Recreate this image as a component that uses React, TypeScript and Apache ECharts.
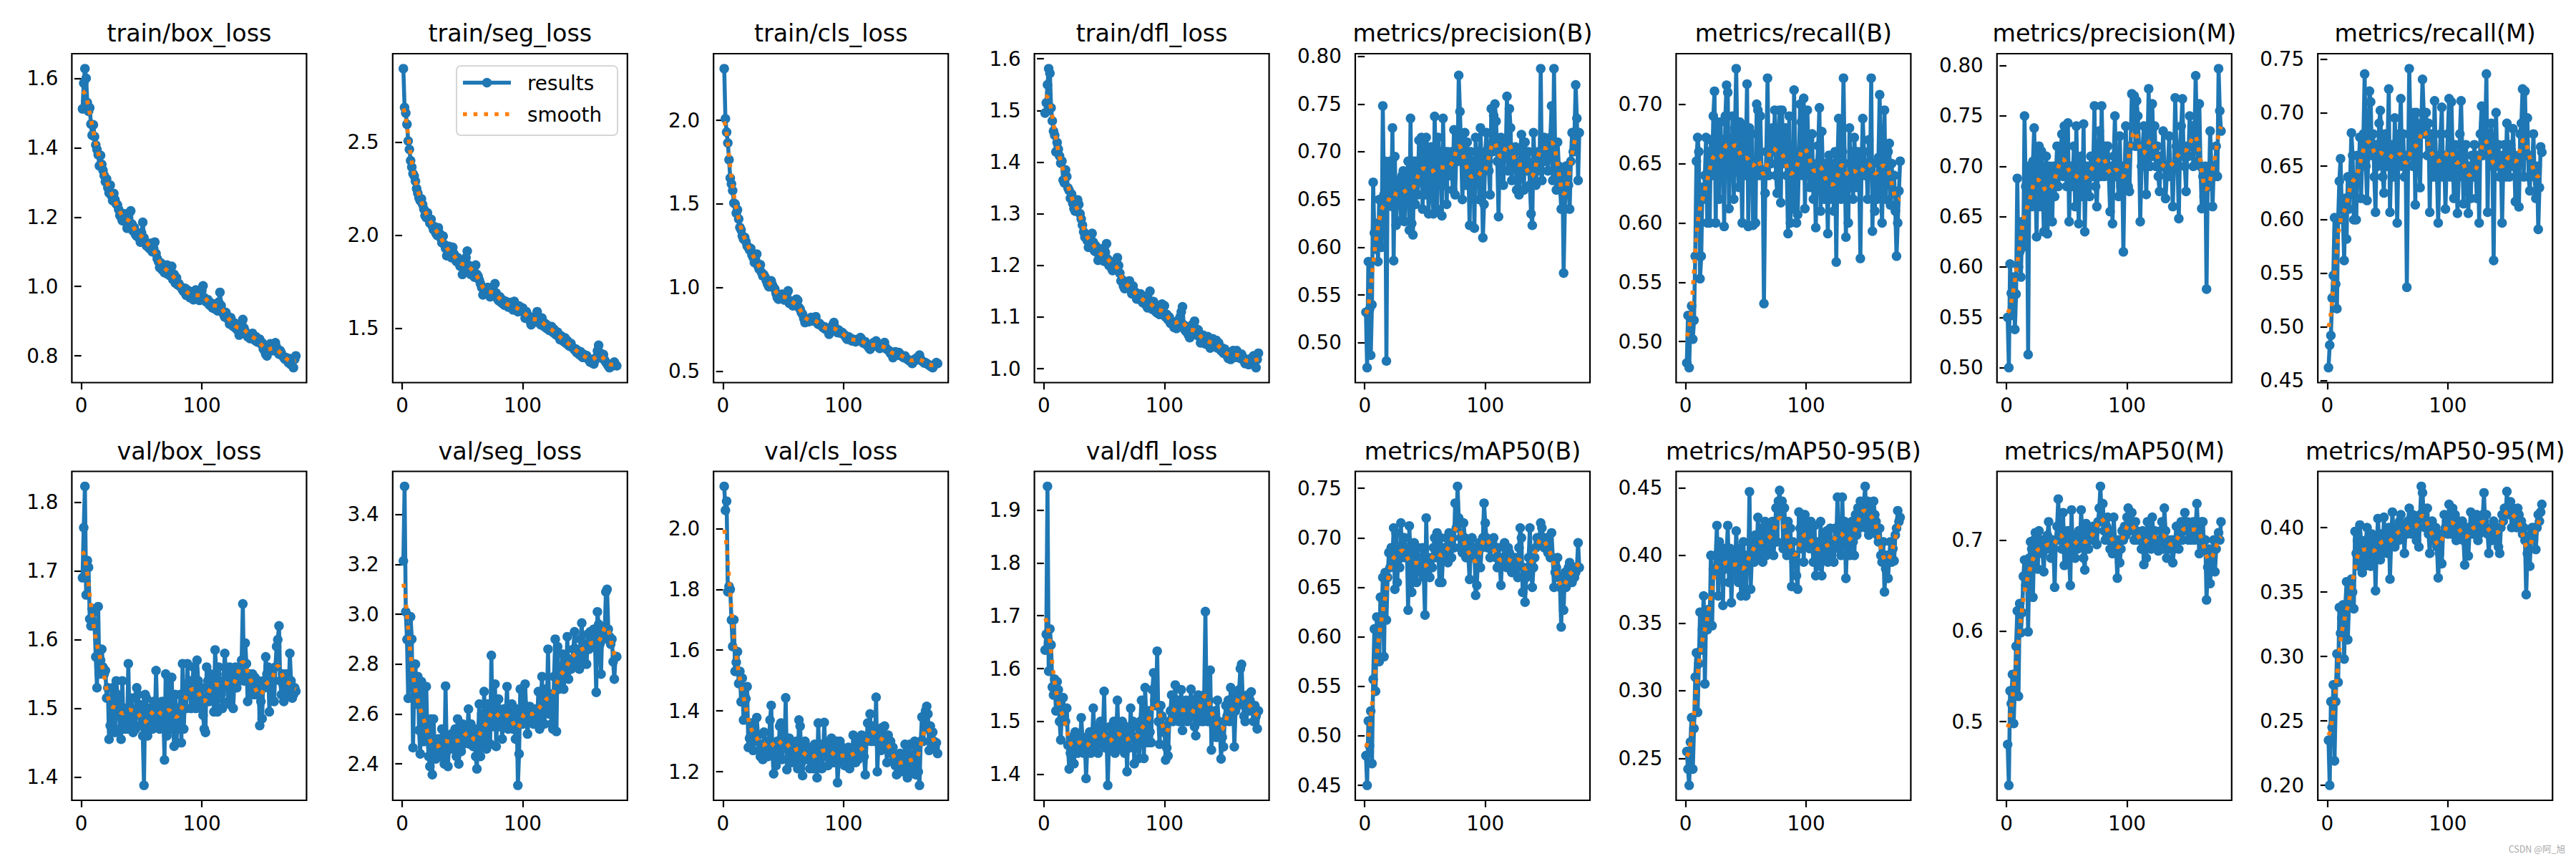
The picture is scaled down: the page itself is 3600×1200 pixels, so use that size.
import React, { useEffect, useRef } from 'react';
import * as echarts from 'echarts';

// ---------------- data ----------------
const N_EPOCHS = 178;
const EPOCHS: number[] = Array.from({ length: N_EPOCHS }, (_, i) => i + 1);
const X_TICKS = [0, 100];

const TITLES = [
  'train/box_loss', 'train/seg_loss', 'train/cls_loss', 'train/dfl_loss',
  'metrics/precision(B)', 'metrics/recall(B)', 'metrics/precision(M)', 'metrics/recall(M)',
  'val/box_loss', 'val/seg_loss', 'val/cls_loss', 'val/dfl_loss',
  'metrics/mAP50(B)', 'metrics/mAP50-95(B)', 'metrics/mAP50(M)', 'metrics/mAP50-95(M)',
];

const trainBox = [1.512,1.586,1.628,1.600,1.530,1.505,1.515,1.468,1.436,1.466,
1.432,1.408,1.395,1.380,1.348,1.378,1.352,1.335,1.320,1.302,
1.310,1.285,1.270,1.292,1.262,1.248,1.268,1.250,1.238,1.235,
1.222,1.205,1.200,1.190,1.210,1.198,1.185,1.168,1.195,1.213,
1.218,1.180,1.160,1.170,1.150,1.145,1.150,1.140,1.128,1.155,
1.185,1.140,1.128,1.118,1.115,1.112,1.108,1.125,1.100,1.110,
1.128,1.095,1.080,1.072,1.055,1.068,1.048,1.060,1.040,1.050,
1.062,1.035,1.045,1.030,1.058,1.020,1.035,1.010,1.025,1.005,
1.008,1.000,0.998,0.990,0.985,0.995,0.975,0.990,0.980,0.968,
0.985,0.972,0.962,0.980,0.990,0.965,0.975,0.960,0.972,0.988,
1.002,0.968,0.958,0.955,0.962,0.948,0.945,0.952,0.938,0.942,
0.935,0.948,0.930,0.955,0.983,0.945,0.930,0.920,0.912,0.925,
0.915,0.905,0.892,0.910,0.898,0.885,0.895,0.880,0.878,0.872,
0.860,0.885,0.895,0.905,0.880,0.870,0.862,0.855,0.862,0.850,
0.858,0.865,0.852,0.845,0.855,0.840,0.842,0.848,0.835,0.838,
0.820,0.815,0.805,0.800,0.812,0.825,0.835,0.820,0.815,0.828,
0.838,0.825,0.812,0.805,0.815,0.808,0.800,0.795,0.790,0.795,
0.788,0.780,0.792,0.775,0.785,0.766,0.790,0.800];

const trainSeg = [2.893,2.685,2.655,2.595,2.505,2.460,2.400,2.365,2.330,2.318,
2.290,2.250,2.225,2.200,2.185,2.195,2.165,2.140,2.105,2.095,
2.120,2.090,2.065,2.085,2.050,2.030,2.045,2.010,2.000,2.040,
2.010,1.985,1.960,1.995,1.950,1.930,1.890,1.915,1.940,1.905,
1.880,1.935,1.900,1.870,1.860,1.880,1.850,1.835,1.860,1.790,
1.820,1.850,1.880,1.915,1.840,1.810,1.790,1.800,1.820,1.775,
1.840,1.790,1.780,1.760,1.740,1.720,1.680,1.710,1.700,1.690,
1.720,1.700,1.670,1.690,1.710,1.680,1.740,1.690,1.660,1.650,
1.670,1.640,1.655,1.630,1.625,1.645,1.630,1.615,1.620,1.640,
1.615,1.600,1.645,1.610,1.605,1.590,1.620,1.600,1.595,1.610,
1.585,1.556,1.590,1.575,1.560,1.540,1.520,1.550,1.560,1.545,
1.535,1.590,1.555,1.540,1.520,1.556,1.535,1.510,1.525,1.500,
1.515,1.490,1.500,1.510,1.480,1.495,1.470,1.465,1.480,1.455,
1.440,1.460,1.445,1.430,1.450,1.420,1.435,1.410,1.405,1.420,
1.400,1.395,1.385,1.390,1.370,1.380,1.360,1.375,1.350,1.345,
1.360,1.345,1.355,1.340,1.330,1.320,1.335,1.315,1.310,1.330,
1.345,1.380,1.410,1.370,1.350,1.340,1.360,1.330,1.320,1.310,
1.300,1.290,1.305,1.298,1.310,1.320,1.305,1.300];

const trainCls = [2.310,2.010,1.930,1.865,1.765,1.655,1.620,1.580,1.505,1.500,
1.445,1.465,1.410,1.360,1.345,1.310,1.290,1.300,1.275,1.250,
1.240,1.225,1.234,1.195,1.180,1.150,1.165,1.200,1.130,1.110,
1.136,1.090,1.070,1.075,1.060,1.040,1.020,1.005,1.030,1.040,
1.015,1.000,0.990,0.965,0.940,0.930,0.950,0.935,0.960,0.945,
0.925,0.940,0.965,0.980,0.906,0.920,0.900,0.890,0.910,0.895,
0.930,0.923,0.880,0.870,0.850,0.840,0.815,0.790,0.800,0.805,
0.795,0.810,0.820,0.800,0.805,0.815,0.825,0.790,0.780,0.785,
0.775,0.770,0.760,0.765,0.750,0.755,0.740,0.720,0.745,0.760,
0.775,0.790,0.760,0.740,0.730,0.745,0.735,0.725,0.730,0.720,
0.715,0.700,0.690,0.705,0.700,0.695,0.680,0.690,0.685,0.675,
0.680,0.690,0.685,0.700,0.690,0.670,0.665,0.675,0.660,0.650,
0.640,0.630,0.655,0.660,0.670,0.650,0.680,0.660,0.645,0.635,
0.650,0.640,0.660,0.670,0.640,0.630,0.625,0.620,0.605,0.610,
0.580,0.600,0.615,0.605,0.595,0.610,0.600,0.590,0.585,0.580,
0.590,0.575,0.570,0.565,0.560,0.555,0.545,0.560,0.570,0.565,
0.580,0.575,0.595,0.570,0.560,0.555,0.548,0.550,0.545,0.540,
0.535,0.530,0.525,0.520,0.535,0.540,0.550,0.545];

const trainDfl = [1.495,1.515,1.550,1.581,1.572,1.505,1.480,1.460,1.452,1.420,
1.438,1.425,1.412,1.398,1.402,1.365,1.360,1.385,1.372,1.350,
1.345,1.330,1.338,1.320,1.310,1.305,1.312,1.327,1.318,1.300,
1.290,1.278,1.265,1.255,1.260,1.248,1.235,1.240,1.258,1.262,
1.245,1.228,1.238,1.225,1.210,1.222,1.232,1.215,1.220,1.208,
1.225,1.242,1.212,1.200,1.205,1.195,1.190,1.205,1.195,1.210,
1.215,1.200,1.185,1.170,1.172,1.160,1.155,1.168,1.165,1.158,
1.170,1.152,1.145,1.160,1.150,1.148,1.135,1.142,1.138,1.145,
1.132,1.128,1.140,1.125,1.130,1.118,1.125,1.150,1.120,1.115,
1.130,1.118,1.110,1.108,1.112,1.105,1.118,1.125,1.110,1.122,
1.100,1.105,1.095,1.100,1.088,1.092,1.085,1.080,1.090,1.078,
1.085,1.095,1.100,1.110,1.120,1.085,1.075,1.072,1.080,1.065,
1.060,1.075,1.085,1.070,1.092,1.078,1.065,1.075,1.062,1.050,
1.058,1.065,1.060,1.048,1.055,1.062,1.050,1.040,1.048,1.058,
1.052,1.045,1.055,1.040,1.050,1.042,1.035,1.040,1.030,1.038,
1.030,1.025,1.020,1.028,1.018,1.030,1.035,1.025,1.022,1.035,
1.030,1.025,1.020,1.028,1.022,1.015,1.010,1.018,1.012,1.008,
1.015,1.020,1.010,1.025,1.015,1.002,1.018,1.030];

const precisionB = [0.532,0.474,0.585,0.535,0.487,0.540,0.668,0.615,0.598,0.625,
0.585,0.650,0.625,0.600,0.748,0.655,0.690,0.481,0.685,0.650,
0.690,0.643,0.725,0.586,0.695,0.623,0.670,0.645,0.668,0.628,
0.675,0.680,0.627,0.662,0.655,0.690,0.618,0.735,0.625,0.613,
0.690,0.645,0.690,0.655,0.712,0.668,0.715,0.640,0.710,0.655,
0.715,0.700,0.635,0.685,0.705,0.660,0.635,0.737,0.690,0.640,
0.715,0.680,0.700,0.633,0.735,0.665,0.700,0.645,0.700,0.690,
0.675,0.700,0.660,0.723,0.655,0.700,0.690,0.780,0.742,0.700,
0.650,0.690,0.720,0.665,0.710,0.680,0.623,0.700,0.660,0.690,
0.620,0.715,0.680,0.700,0.650,0.725,0.680,0.610,0.645,0.700,
0.720,0.690,0.680,0.655,0.745,0.700,0.738,0.750,0.732,0.690,
0.632,0.700,0.715,0.680,0.665,0.710,0.700,0.758,0.680,0.745,
0.725,0.670,0.700,0.690,0.705,0.660,0.690,0.655,0.700,0.718,
0.680,0.660,0.710,0.690,0.680,0.700,0.665,0.635,0.623,0.720,
0.690,0.665,0.690,0.700,0.680,0.787,0.670,0.700,0.715,0.690,
0.710,0.680,0.700,0.715,0.748,0.670,0.787,0.700,0.660,0.710,
0.685,0.665,0.640,0.680,0.573,0.640,0.685,0.680,0.665,0.640,
0.690,0.720,0.700,0.720,0.770,0.735,0.670,0.720];

const recallB = [0.482,0.522,0.478,0.520,0.530,0.502,0.518,0.572,0.652,0.672,
0.660,0.553,0.572,0.630,0.620,0.640,0.672,0.600,0.660,0.600,
0.670,0.640,0.690,0.711,0.600,0.685,0.640,0.620,0.685,0.650,
0.670,0.597,0.690,0.716,0.710,0.612,0.660,0.640,0.690,0.620,
0.680,0.730,0.660,0.630,0.685,0.650,0.600,0.680,0.640,0.660,
0.717,0.597,0.680,0.640,0.675,0.598,0.650,0.600,0.700,0.695,
0.640,0.690,0.645,0.640,0.532,0.625,0.660,0.722,0.640,0.665,
0.650,0.680,0.660,0.695,0.640,0.625,0.670,0.695,0.617,0.695,
0.650,0.655,0.680,0.640,0.591,0.690,0.600,0.640,0.612,0.712,
0.660,0.600,0.607,0.650,0.700,0.685,0.640,0.705,0.612,0.670,
0.695,0.660,0.630,0.650,0.675,0.620,0.640,0.596,0.650,0.665,
0.697,0.610,0.677,0.640,0.620,0.650,0.640,0.591,0.657,0.620,
0.650,0.640,0.610,0.660,0.567,0.650,0.688,0.640,0.620,0.660,
0.722,0.650,0.588,0.640,0.600,0.680,0.630,0.660,0.620,0.672,
0.650,0.630,0.660,0.640,0.570,0.650,0.688,0.660,0.640,0.650,
0.620,0.670,0.640,0.722,0.593,0.650,0.610,0.640,0.620,0.655,
0.708,0.630,0.600,0.660,0.695,0.620,0.640,0.660,0.667,0.615,
0.650,0.625,0.640,0.610,0.572,0.600,0.627,0.652];

const precisionM = [0.550,0.500,0.603,0.574,0.552,0.590,0.538,0.573,0.688,0.600,
0.615,0.590,0.645,0.620,0.750,0.680,0.690,0.513,0.700,0.680,
0.660,0.705,0.738,0.685,0.630,0.700,0.720,0.660,0.715,0.690,
0.635,0.680,0.710,0.633,0.665,0.700,0.690,0.645,0.700,0.670,
0.690,0.720,0.680,0.700,0.715,0.732,0.690,0.740,0.700,0.680,
0.743,0.645,0.700,0.680,0.690,0.720,0.660,0.740,0.680,0.643,
0.690,0.710,0.670,0.742,0.635,0.690,0.700,0.690,0.670,0.710,
0.690,0.700,0.760,0.680,0.660,0.700,0.735,0.690,0.760,0.700,
0.690,0.720,0.700,0.720,0.690,0.655,0.700,0.643,0.710,0.750,
0.690,0.700,0.670,0.730,0.680,0.700,0.615,0.690,0.740,0.700,
0.680,0.675,0.720,0.772,0.740,0.770,0.720,0.765,0.750,0.720,
0.645,0.700,0.720,0.740,0.710,0.672,0.720,0.777,0.700,0.730,
0.762,0.710,0.740,0.700,0.720,0.690,0.675,0.710,0.700,0.735,
0.700,0.668,0.690,0.700,0.730,0.690,0.700,0.660,0.700,0.768,
0.720,0.700,0.648,0.720,0.740,0.767,0.710,0.700,0.675,0.720,
0.710,0.750,0.720,0.740,0.700,0.730,0.790,0.730,0.705,0.762,
0.700,0.658,0.690,0.670,0.700,0.578,0.690,0.680,0.735,0.700,
0.660,0.700,0.690,0.720,0.690,0.797,0.755,0.735];

const recallM = [0.462,0.483,0.492,0.527,0.548,0.602,0.540,0.517,0.600,0.636,
0.657,0.610,0.600,0.562,0.620,0.582,0.640,0.610,0.640,0.681,
0.660,0.600,0.640,0.600,0.660,0.640,0.677,0.620,0.660,0.680,
0.736,0.650,0.618,0.660,0.720,0.710,0.660,0.680,0.640,0.607,
0.670,0.650,0.690,0.702,0.660,0.640,0.625,0.680,0.650,0.670,
0.722,0.607,0.650,0.670,0.640,0.695,0.660,0.597,0.660,0.680,
0.713,0.650,0.680,0.640,0.660,0.537,0.650,0.741,0.680,0.660,
0.650,0.700,0.614,0.700,0.680,0.660,0.630,0.690,0.731,0.700,
0.680,0.700,0.660,0.690,0.607,0.680,0.660,0.640,0.711,0.660,
0.640,0.597,0.650,0.680,0.705,0.640,0.660,0.610,0.650,0.680,
0.713,0.640,0.710,0.660,0.620,0.670,0.650,0.606,0.640,0.680,
0.711,0.660,0.615,0.650,0.670,0.640,0.606,0.650,0.620,0.660,
0.640,0.670,0.650,0.620,0.660,0.597,0.680,0.706,0.660,0.690,
0.680,0.736,0.607,0.680,0.660,0.690,0.650,0.562,0.660,0.700,
0.650,0.670,0.640,0.660,0.597,0.650,0.670,0.640,0.690,0.660,
0.640,0.670,0.650,0.685,0.660,0.617,0.650,0.660,0.612,0.680,
0.690,0.722,0.640,0.720,0.660,0.695,0.640,0.627,0.660,0.650,
0.680,0.640,0.620,0.650,0.591,0.630,0.668,0.663];

const valBox = [1.690,1.763,1.823,1.665,1.715,1.705,1.630,1.620,1.645,1.640,
1.620,1.575,1.530,1.648,1.550,1.570,1.586,1.560,1.550,1.555,
1.515,1.530,1.455,1.475,1.510,1.530,1.495,1.465,1.540,1.520,
1.500,1.470,1.455,1.540,1.480,1.470,1.500,1.470,1.565,1.480,
1.500,1.515,1.465,1.490,1.470,1.530,1.520,1.500,1.475,1.505,
1.460,1.388,1.520,1.515,1.460,1.500,1.485,1.500,1.470,1.510,
1.480,1.555,1.490,1.500,1.470,1.480,1.510,1.500,1.425,1.550,
1.460,1.545,1.500,1.470,1.545,1.480,1.445,1.520,1.450,1.500,
1.470,1.520,1.450,1.565,1.470,1.520,1.500,1.565,1.520,1.540,
1.500,1.530,1.560,1.510,1.500,1.570,1.540,1.520,1.500,1.530,
1.490,1.470,1.465,1.560,1.540,1.510,1.550,1.525,1.540,1.495,
1.585,1.550,1.495,1.560,1.530,1.520,1.500,1.540,1.580,1.550,
1.530,1.510,1.560,1.505,1.550,1.500,1.540,1.560,1.530,1.550,
1.540,1.560,1.570,1.652,1.540,1.595,1.565,1.510,1.550,1.540,
1.530,1.550,1.520,1.545,1.530,1.520,1.540,1.475,1.510,1.485,
1.540,1.530,1.575,1.550,1.560,1.495,1.530,1.550,1.540,1.510,
1.560,1.590,1.600,1.620,1.540,1.520,1.550,1.510,1.540,1.550,
1.530,1.520,1.580,1.540,1.515,1.520,1.530,1.525];

const valSeg = [3.214,3.513,3.010,2.899,2.663,2.890,2.990,2.900,2.465,2.700,
2.800,2.640,2.750,2.535,2.440,2.730,2.700,2.490,2.520,2.710,
2.500,2.430,2.390,2.580,2.357,2.580,2.470,2.420,2.450,2.500,
2.460,2.430,2.540,2.480,2.400,2.712,2.450,2.390,2.500,2.480,
2.520,2.460,2.500,2.540,2.430,2.580,2.400,2.520,2.450,2.560,
2.480,2.540,2.500,2.520,2.620,2.480,2.560,2.500,2.470,2.540,
2.430,2.380,2.520,2.640,2.430,2.600,2.480,2.690,2.500,2.460,
2.640,2.560,2.480,2.835,2.550,2.620,2.720,2.470,2.600,2.660,
2.550,2.600,2.500,2.620,2.560,2.600,2.710,2.540,2.600,2.560,
2.640,2.540,2.600,2.500,2.620,2.314,2.440,2.700,2.600,2.560,
2.640,2.720,2.600,2.520,2.580,2.630,2.600,2.620,2.560,2.600,
2.620,2.580,2.690,2.540,2.640,2.750,2.600,2.560,2.700,2.620,
2.860,2.600,2.680,2.560,2.540,2.750,2.900,2.530,2.870,2.700,
2.760,2.720,2.840,2.700,2.800,2.760,2.910,2.740,2.820,2.780,
2.810,2.860,2.930,2.800,2.860,2.830,2.780,2.900,2.965,2.800,
2.850,2.880,2.800,2.920,2.860,2.930,2.870,2.900,2.940,2.880,
2.687,3.010,2.960,2.880,2.760,2.950,2.900,2.920,3.090,3.100,
2.940,2.910,2.880,2.900,2.810,2.740,2.830,2.830];

const valCls = [2.139,2.060,2.090,1.792,1.810,1.800,1.699,1.612,1.700,1.530,
1.560,1.595,1.490,1.530,1.430,1.508,1.370,1.450,1.440,1.480,
1.280,1.310,1.360,1.330,1.270,1.350,1.300,1.378,1.320,1.270,
1.250,1.290,1.240,1.330,1.280,1.300,1.250,1.290,1.370,1.418,
1.260,1.193,1.280,1.220,1.300,1.260,1.350,1.360,1.240,1.300,
1.280,1.443,1.207,1.290,1.310,1.250,1.230,1.280,1.260,1.250,
1.300,1.210,1.370,1.350,1.230,1.187,1.250,1.300,1.270,1.240,
1.260,1.210,1.280,1.240,1.210,1.290,1.250,1.180,1.360,1.240,
1.290,1.210,1.250,1.362,1.250,1.280,1.220,1.300,1.250,1.310,
1.230,1.280,1.230,1.300,1.164,1.230,1.300,1.250,1.280,1.250,
1.220,1.270,1.240,1.280,1.210,1.260,1.230,1.320,1.250,1.230,
1.280,1.240,1.300,1.260,1.320,1.280,1.250,1.190,1.300,1.360,
1.320,1.390,1.300,1.330,1.350,1.300,1.445,1.200,1.300,1.340,
1.270,1.345,1.290,1.350,1.300,1.230,1.320,1.270,1.300,1.260,
1.280,1.240,1.220,1.190,1.250,1.200,1.260,1.200,1.240,1.210,
1.290,1.250,1.180,1.220,1.290,1.200,1.250,1.230,1.300,1.190,
1.280,1.200,1.155,1.300,1.380,1.300,1.340,1.400,1.415,1.390,
1.270,1.350,1.290,1.330,1.300,1.280,1.295,1.260];

const valDfl = [1.635,1.665,1.945,1.595,1.675,1.645,1.565,1.550,1.580,1.520,
1.575,1.560,1.500,1.465,1.525,1.545,1.510,1.500,1.525,1.455,
1.410,1.440,1.470,1.450,1.420,1.480,1.460,1.440,1.470,1.450,
1.507,1.470,1.440,1.460,1.392,1.450,1.470,1.480,1.440,1.460,
1.525,1.470,1.450,1.490,1.440,1.470,1.500,1.460,1.480,1.557,
1.450,1.470,1.379,1.460,1.490,1.450,1.470,1.500,1.440,1.470,
1.540,1.460,1.450,1.480,1.500,1.470,1.440,1.490,1.405,1.480,
1.450,1.525,1.470,1.500,1.420,1.470,1.450,1.490,1.430,1.500,
1.540,1.480,1.430,1.564,1.500,1.460,1.520,1.480,1.460,1.560,
1.592,1.540,1.530,1.633,1.500,1.457,1.530,1.510,1.480,1.490,
1.427,1.450,1.435,1.500,1.520,1.550,1.500,1.530,1.569,1.510,
1.540,1.500,1.520,1.560,1.483,1.530,1.510,1.540,1.500,1.530,
1.520,1.561,1.510,1.540,1.490,1.473,1.530,1.550,1.500,1.520,
1.540,1.500,1.550,1.708,1.520,1.500,1.540,1.597,1.446,1.510,
1.490,1.520,1.470,1.540,1.500,1.480,1.429,1.470,1.452,1.500,
1.530,1.510,1.540,1.500,1.564,1.520,1.540,1.452,1.520,1.550,
1.530,1.560,1.600,1.608,1.540,1.510,1.500,1.530,1.550,1.520,
1.540,1.556,1.520,1.500,1.530,1.510,1.486,1.520];

const mAP50B = [0.480,0.450,0.515,0.490,0.525,0.472,0.557,0.608,0.545,0.620,
0.580,0.575,0.640,0.620,0.660,0.580,0.665,0.617,0.660,0.685,
0.670,0.690,0.680,0.710,0.648,0.705,0.655,0.690,0.670,0.715,
0.680,0.700,0.700,0.680,0.690,0.627,0.712,0.680,0.645,0.670,
0.695,0.680,0.655,0.690,0.670,0.680,0.665,0.690,0.660,0.622,
0.720,0.670,0.675,0.660,0.680,0.670,0.690,0.700,0.680,0.705,
0.690,0.655,0.700,0.655,0.685,0.690,0.680,0.700,0.675,0.705,
0.690,0.680,0.700,0.690,0.735,0.710,0.752,0.720,0.690,0.700,
0.685,0.715,0.700,0.680,0.695,0.680,0.658,0.690,0.700,0.680,
0.690,0.642,0.652,0.680,0.695,0.670,0.690,0.700,0.735,0.715,
0.700,0.690,0.695,0.680,0.690,0.695,0.700,0.690,0.680,0.670,
0.690,0.675,0.652,0.680,0.675,0.695,0.680,0.670,0.690,0.685,
0.670,0.665,0.680,0.670,0.680,0.675,0.660,0.690,0.710,0.700,
0.645,0.670,0.635,0.660,0.665,0.680,0.710,0.670,0.650,0.670,
0.680,0.690,0.700,0.695,0.700,0.715,0.710,0.700,0.690,0.690,
0.700,0.685,0.690,0.680,0.705,0.680,0.650,0.665,0.670,0.680,
0.660,0.650,0.610,0.660,0.627,0.665,0.650,0.660,0.670,0.675,
0.665,0.655,0.670,0.660,0.665,0.670,0.695,0.670];

const mAP5095B = [0.255,0.242,0.230,0.262,0.280,0.242,0.272,0.310,0.328,0.284,
0.320,0.358,0.330,0.345,0.370,0.305,0.355,0.345,0.360,0.350,
0.400,0.348,0.390,0.388,0.400,0.422,0.370,0.410,0.390,0.400,
0.363,0.405,0.390,0.400,0.422,0.380,0.405,0.365,0.390,0.400,
0.385,0.418,0.395,0.380,0.405,0.370,0.390,0.410,0.375,0.370,
0.400,0.390,0.447,0.375,0.400,0.410,0.395,0.415,0.400,0.428,
0.410,0.400,0.420,0.395,0.410,0.425,0.400,0.415,0.405,0.422,
0.410,0.425,0.400,0.415,0.435,0.410,0.440,0.448,0.430,0.440,
0.405,0.435,0.410,0.400,0.425,0.410,0.420,0.377,0.410,0.395,
0.400,0.385,0.375,0.432,0.420,0.405,0.430,0.395,0.430,0.415,
0.425,0.410,0.405,0.425,0.410,0.395,0.422,0.385,0.410,0.405,
0.392,0.425,0.385,0.415,0.410,0.400,0.418,0.395,0.410,0.420,
0.400,0.410,0.395,0.420,0.410,0.443,0.405,0.420,0.400,0.443,
0.410,0.425,0.383,0.410,0.420,0.400,0.415,0.425,0.410,0.400,
0.430,0.415,0.435,0.420,0.440,0.425,0.435,0.440,0.451,0.420,
0.440,0.415,0.430,0.435,0.420,0.440,0.430,0.425,0.415,0.410,
0.420,0.400,0.395,0.410,0.373,0.390,0.400,0.383,0.400,0.410,
0.395,0.405,0.396,0.415,0.420,0.433,0.425,0.428];

const mAP50M = [0.475,0.430,0.534,0.520,0.552,0.498,0.540,0.583,0.622,0.528,
0.630,0.598,0.620,0.660,0.678,0.650,0.670,0.599,0.680,0.698,
0.690,0.637,0.700,0.708,0.690,0.668,0.710,0.690,0.700,0.685,
0.665,0.700,0.690,0.705,0.720,0.695,0.680,0.700,0.690,0.648,
0.700,0.715,0.745,0.700,0.715,0.690,0.730,0.672,0.700,0.690,
0.710,0.680,0.650,0.733,0.690,0.700,0.680,0.705,0.690,0.710,
0.695,0.733,0.700,0.680,0.667,0.718,0.700,0.690,0.705,0.710,
0.700,0.715,0.700,0.710,0.695,0.720,0.735,0.759,0.720,0.740,
0.710,0.700,0.715,0.725,0.700,0.690,0.710,0.685,0.725,0.700,
0.690,0.658,0.700,0.675,0.690,0.710,0.700,0.715,0.705,0.725,
0.735,0.710,0.720,0.730,0.715,0.700,0.720,0.710,0.700,0.705,
0.700,0.690,0.710,0.673,0.700,0.680,0.720,0.705,0.710,0.690,
0.725,0.700,0.710,0.695,0.700,0.688,0.700,0.710,0.720,0.690,
0.735,0.710,0.680,0.700,0.695,0.690,0.700,0.675,0.690,0.700,
0.715,0.700,0.690,0.710,0.720,0.700,0.715,0.730,0.710,0.720,
0.700,0.715,0.700,0.710,0.720,0.700,0.715,0.740,0.710,0.685,
0.700,0.720,0.720,0.690,0.700,0.634,0.670,0.690,0.652,0.680,
0.690,0.700,0.665,0.690,0.700,0.708,0.700,0.720];

const mAP5095M = [0.235,0.200,0.265,0.245,0.278,0.219,0.265,0.302,0.280,0.338,
0.318,0.330,0.340,0.298,0.340,0.358,0.313,0.340,0.350,0.360,
0.350,0.337,0.397,0.380,0.390,0.370,0.402,0.390,0.365,0.385,
0.370,0.390,0.400,0.385,0.375,0.370,0.395,0.380,0.390,0.351,
0.385,0.407,0.390,0.375,0.395,0.380,0.408,0.385,0.395,0.380,
0.400,0.360,0.390,0.412,0.395,0.385,0.400,0.390,0.390,0.405,
0.410,0.395,0.400,0.380,0.400,0.395,0.405,0.415,0.400,0.395,
0.410,0.400,0.395,0.390,0.405,0.385,0.410,0.432,0.427,0.410,
0.400,0.405,0.415,0.395,0.380,0.400,0.405,0.390,0.395,0.400,
0.385,0.361,0.380,0.395,0.372,0.395,0.410,0.400,0.405,0.395,
0.418,0.405,0.395,0.415,0.400,0.410,0.390,0.400,0.405,0.400,
0.395,0.405,0.390,0.371,0.395,0.400,0.378,0.395,0.412,0.400,
0.395,0.405,0.400,0.410,0.390,0.395,0.405,0.400,0.410,0.427,
0.400,0.410,0.395,0.380,0.395,0.400,0.390,0.405,0.400,0.395,
0.400,0.385,0.380,0.400,0.410,0.405,0.415,0.410,0.428,0.415,
0.410,0.420,0.400,0.415,0.405,0.410,0.400,0.415,0.410,0.400,
0.405,0.395,0.400,0.390,0.348,0.380,0.390,0.370,0.395,0.400,
0.390,0.400,0.383,0.400,0.410,0.405,0.412,0.418];

const SERIES_VALUES = [
  trainBox, trainSeg, trainCls, trainDfl, precisionB, recallB, precisionM, recallM,
  valBox, valSeg, valCls, valDfl, mAP50B, mAP5095B, mAP50M, mAP5095M,
];

const Y_TICKS = [
  [0.8, 1.0, 1.2, 1.4, 1.6],
  [1.5, 2.0, 2.5],
  [0.5, 1.0, 1.5, 2.0],
  [1.0, 1.1, 1.2, 1.3, 1.4, 1.5, 1.6],
  [0.5, 0.55, 0.6, 0.65, 0.7, 0.75, 0.8],
  [0.5, 0.55, 0.6, 0.65, 0.7],
  [0.5, 0.55, 0.6, 0.65, 0.7, 0.75, 0.8],
  [0.45, 0.5, 0.55, 0.6, 0.65, 0.7, 0.75],
  [1.4, 1.5, 1.6, 1.7, 1.8],
  [2.4, 2.6, 2.8, 3.0, 3.2, 3.4],
  [1.2, 1.4, 1.6, 1.8, 2.0],
  [1.4, 1.5, 1.6, 1.7, 1.8, 1.9],
  [0.45, 0.5, 0.55, 0.6, 0.65, 0.7, 0.75],
  [0.25, 0.3, 0.35, 0.4, 0.45],
  [0.5, 0.6, 0.7],
  [0.2, 0.25, 0.3, 0.35, 0.4],
];
const Y_DECIMALS = [1, 1, 1, 1, 2, 2, 2, 2, 1, 1, 1, 1, 2, 2, 1, 2];

const LEGEND_LABELS = ['results', 'smooth'];
const WATERMARK = 'CSDN @阿_旭';

// ---------------- styling / layout ----------------
const BLUE = '#1f77b4';
const ORANGE = '#ff7f0e';
const FONT = 'DejaVu Sans';
const GRID_LEFT0 = 100.4;
const GRID_PITCH = 448.4;
const GRID_W = 328;
const GRID_H = 459.5;
const ROW_TOP = [75, 658.5];
const LW = 5.56;

// gaussian_filter1d(sigma=3), mode 'reflect' — the smoothing used by the original plot
function gaussianSmooth(y: number[], sigma = 3): number[] {
  const r = Math.floor(4 * sigma + 0.5);
  const w: number[] = [];
  let s = 0;
  for (let k = -r; k <= r; k++) {
    const v = Math.exp(-0.5 * (k * k) / (sigma * sigma));
    w.push(v);
    s += v;
  }
  const n = y.length;
  const idx = (j: number) => {
    while (j < 0 || j >= n) {
      if (j < 0) j = -j - 1;
      if (j >= n) j = 2 * n - j - 1;
    }
    return j;
  };
  return y.map((_, i) => {
    let acc = 0;
    for (let k = -r; k <= r; k++) acc += w[k + r] * y[idx(i + k)];
    return acc / s;
  });
}

function buildOption() {
  const grids: any[] = [];
  const xAxes: any[] = [];
  const yAxes: any[] = [];
  const series: any[] = [];
  const graphics: any[] = [];

  const xLo = EPOCHS[0];
  const xHi = EPOCHS[EPOCHS.length - 1];
  const xm = 0.05 * (xHi - xLo);

  SERIES_VALUES.forEach((vals, i) => {
    const col = i % 8;
    const row = Math.floor(i / 8);
    const left = GRID_LEFT0 + col * GRID_PITCH;
    const top = ROW_TOP[row];
    const smooth = gaussianSmooth(vals, 3);
    const lo = Math.min(...vals, ...smooth);
    const hi = Math.max(...vals, ...smooth);
    const m = 0.05 * (hi - lo);
    const dec = Y_DECIMALS[i];

    grids.push({
      left, top, width: GRID_W, height: GRID_H,
      show: true, borderColor: '#000', borderWidth: 2.2, backgroundColor: 'transparent',
      containLabel: false,
    });
    xAxes.push({
      type: 'value', gridIndex: i, min: xLo - xm, max: xHi + xm,
      axisLine: { show: false },
      splitLine: { show: false },
      axisTick: { show: true, inside: false, length: 9.7, lineStyle: { color: '#000', width: 2.2 }, customValues: X_TICKS },
      axisLabel: { show: true, customValues: X_TICKS, fontSize: 27.8, fontFamily: FONT, color: '#000', margin: 18, formatter: (v: number) => String(Math.round(v)) },
    });
    yAxes.push({
      type: 'value', gridIndex: i, min: lo - m, max: hi + m,
      axisLine: { show: false },
      splitLine: { show: false },
      axisTick: { show: true, inside: false, length: 9.7, lineStyle: { color: '#000', width: 2.2 }, customValues: Y_TICKS[i] },
      axisLabel: { show: true, customValues: Y_TICKS[i], fontSize: 27.8, fontFamily: FONT, color: '#000', margin: 19, formatter: (v: number) => v.toFixed(dec) },
    });
    series.push({
      type: 'line', name: LEGEND_LABELS[0], xAxisIndex: i, yAxisIndex: i,
      data: EPOCHS.map((e, k) => [e, vals[k]]),
      symbol: 'circle', symbolSize: 13.5, showSymbol: true, showAllSymbol: true,
      lineStyle: { color: BLUE, width: LW },
      itemStyle: { color: BLUE },
      silent: true, z: 2,
    });
    series.push({
      type: 'line', name: LEGEND_LABELS[1], xAxisIndex: i, yAxisIndex: i,
      data: EPOCHS.map((e, k) => [e, smooth[k]]),
      symbol: 'none', showSymbol: false,
      lineStyle: { color: ORANGE, width: LW, type: [5.56, 9.17], cap: 'butt' },
      silent: true, z: 3,
    });
    graphics.push({
      type: 'text', x: left + GRID_W / 2, y: top - 28.2,
      style: {
        text: TITLES[i], fill: '#000', fontSize: 33.3, fontFamily: FONT,
        align: 'center', verticalAlign: 'middle', textAlign: 'center', textVerticalAlign: 'middle',
      },
    });
  });

  // legend in the train/seg_loss panel (upper right)
  const lgLeft = GRID_LEFT0 + GRID_PITCH + GRID_W - 13.8 - 225;
  const lgTop = ROW_TOP[0] + 17;
  graphics.push({
    type: 'rect', shape: { x: lgLeft, y: lgTop, width: 225, height: 97, r: 6 },
    style: { fill: 'rgba(255,255,255,0.8)', stroke: '#d6d6d6', lineWidth: 2 }, z: 100,
  });
  const h1 = lgTop + 23.5;
  const h2 = lgTop + 67.5;
  const hx0 = lgLeft + 9;
  const hx1 = lgLeft + 76;
  graphics.push({ type: 'line', shape: { x1: hx0, y1: h1, x2: hx1, y2: h1 }, style: { stroke: BLUE, lineWidth: LW }, z: 101 });
  graphics.push({ type: 'circle', shape: { cx: (hx0 + hx1) / 2, cy: h1, r: 6.75 }, style: { fill: BLUE }, z: 102 });
  graphics.push({ type: 'line', shape: { x1: hx0, y1: h2, x2: hx1, y2: h2 }, style: { stroke: ORANGE, lineWidth: LW, lineDash: [5.56, 9.17], lineCap: 'butt' }, z: 101 });
  [h1, h2].forEach((yy, k) => {
    graphics.push({
      type: 'text', x: lgLeft + 99, y: yy + 1,
      style: { text: LEGEND_LABELS[k], fill: '#000', fontSize: 27.8, fontFamily: FONT, align: 'left', verticalAlign: 'middle', textAlign: 'left', textVerticalAlign: 'middle' },
      z: 102,
    });
  });

  graphics.push({
    type: 'text', x: 3585, y: 1185,
    style: { text: WATERMARK, fill: '#a8a8a8', fontSize: 12.5, fontFamily: 'Noto Sans CJK SC', align: 'right', verticalAlign: 'middle', textAlign: 'right', textVerticalAlign: 'middle' },
  });

  return {
    animation: false,
    backgroundColor: '#ffffff',
    grid: grids,
    xAxis: xAxes,
    yAxis: yAxes,
    series,
    graphic: { elements: graphics },
  };
}

export default function App() {
  const ref = useRef<HTMLDivElement>(null);
  useEffect(() => {
    if (!ref.current) return;
    const chart = echarts.init(ref.current, null, { renderer: 'svg' });
    chart.setOption(buildOption());
    return () => chart.dispose();
  }, []);
  return (
    <div
      ref={ref}
      style={{ position: 'fixed', left: 0, top: 0, width: 3600, height: 1200, background: '#fff' }}
    />
  );
}
